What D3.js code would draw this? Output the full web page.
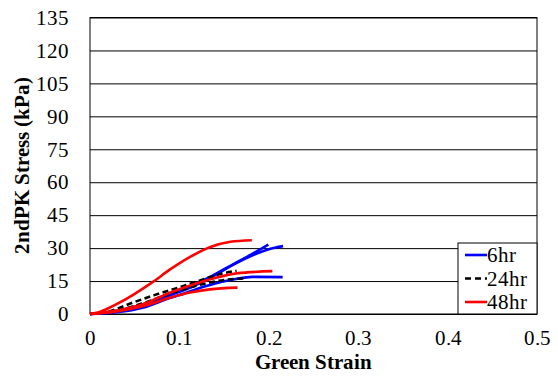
<!DOCTYPE html>
<html>
<head>
<meta charset="UTF-8">
<script src="https://d3js.org/d3.v7.js"></script>
<style>
    @font-face { font-family: "ChartSerif"; src: local("Liberation Serif"), local("LiberationSerif"), local("Times New Roman"); font-weight: normal; }
    @font-face { font-family: "ChartSerif"; src: local("Liberation Serif Bold"), local("LiberationSerif-Bold"), local("Times New Roman Bold"); font-weight: bold; }
</style>
</head>
<body style="margin:0">
<svg width="558" height="377"></svg>
<script>
    // ---- data ([strain, stress kPa]) ----
    const yTicks = [0, 15, 30, 45, 60, 75, 90, 105, 120, 135];
    const xTicks = [0, 0.1, 0.2, 0.3, 0.4, 0.5];

    const hr6a = [[0,0],[0.03,1.5],[0.06,4.6],[0.09,9],[0.112,12.4],[0.138,17.7],[0.16,22.6],[0.18,27],[0.1995,31.6]];
    const hr6b = [[0,0],[0.03,1.2],[0.06,4.2],[0.09,8.6],[0.112,12],[0.138,17.3],[0.16,22.4],[0.18,26.4],[0.2,29.5],[0.216,30.9]];
    const hr6c = [[0,0],[0.03,0.8],[0.06,3],[0.09,7.4],[0.1,8.6],[0.127,12.4],[0.157,15.5],[0.182,16.9],[0.2155,16.8]];

    const hr24a = [[0,0],[0.02,1],[0.046,4.9],[0.072,8.6],[0.098,11.9],[0.127,15.8],[0.145,18.1],[0.164,19.7]];
    const hr24b = [[0,0],[0.03,1.5],[0.06,5],[0.09,9.4],[0.12,13],[0.15,15.5],[0.175,16.2]];

    const hr48a = [[0,0],[0.01,0.8],[0.02,2.5],[0.035,5.6],[0.05,9.2],[0.07,14.5],[0.09,20.4],[0.112,26],[0.134,30.4],[0.157,32.9],[0.181,33.6]];
    const hr48b = [[0,0],[0.03,1.6],[0.06,4.6],[0.09,9.8],[0.112,13],[0.138,16.2],[0.164,18.5],[0.204,19.5]];
    const hr48c = [[0,0],[0.03,1.2],[0.06,3.6],[0.09,7.5],[0.112,9.8],[0.134,11.2],[0.165,12]];

    const seriesNames = ["6hr", "24hr", "48hr"];
    const seriesColors = ["#0000ff", "#000000", "#ff0000"];
    const seriesCurves = [[hr6a, hr6b, hr6c], [hr24a, hr24b], [hr48a, hr48b, hr48c]];

    const font = "ChartSerif, 'Liberation Serif', 'Times New Roman', serif";

    let svg = d3.select("svg");
    let plotL = 90, plotR = 537, plotT = 17.5, plotB = 314;

    let x = d3.scaleLinear().domain([0, 0.5]).range([plotL, plotR]);
    let y = d3.scaleLinear().domain([0, 135]).range([plotB, plotT]);

    // horizontal gridlines
    let grid = svg.append("g")
        .attr("transform", "translate(" + plotL + ",0)")
        .call(d3.axisLeft(y).tickValues(yTicks).tickSize(-(plotR - plotL)).tickFormat(""));
    grid.select(".domain").remove();
    grid.selectAll("line").attr("stroke", "#000").attr("stroke-width", 1);

    // plot frame
    svg.append("rect")
        .attr("x", plotL).attr("y", plotT)
        .attr("width", plotR - plotL).attr("height", plotB - plotT)
        .attr("fill", "none").attr("stroke", "#000").attr("stroke-width", 1);

    // y axis labels
    let yAxis = svg.append("g")
        .attr("transform", "translate(" + plotL + ",0)")
        .call(d3.axisLeft(y).tickValues(yTicks).tickSize(0).tickPadding(21));
    yAxis.select(".domain").remove();
    yAxis.attr("font-family", font).attr("font-size", 21);
    yAxis.selectAll("text")
        .style("font-family", font)
        .style("font-size", "21px").attr("fill", "#000");

    // x axis labels
    let xAxis = svg.append("g")
        .attr("transform", "translate(0," + plotB + ")")
        .call(d3.axisBottom(x).tickValues(xTicks).tickSize(0).tickPadding(16)
            .tickFormat(d => d === 0 ? "0" : d3.format(".1f")(d)));
    xAxis.select(".domain").remove();
    xAxis.attr("font-family", font).attr("font-size", 21);
    xAxis.selectAll("text")
        .style("font-family", font)
        .style("font-size", "21px").attr("fill", "#000");

    // axis titles
    svg.append("text")
        .attr("x", (plotL + plotR) / 2).attr("y", 369)
        .attr("text-anchor", "middle")
        .style("font-family", font)
        .style("font-size", "21px").style("font-weight", "bold")
        .text("Green Strain");

    svg.append("text")
        .attr("transform", "translate(29,165) rotate(-90)")
        .attr("text-anchor", "middle")
        .style("font-family", font)
        .style("font-size", "21px").style("font-weight", "bold")
        .text("2ndPK Stress (kPa)");

    // curves
    let line = d3.line()
        .x(d => x(d[0]))
        .y(d => y(d[1]))
        .curve(d3.curveMonotoneX);

    seriesCurves.forEach((curves, i) => {
        svg.append("g").selectAll("path")
            .data(curves)
            .join("path")
            .attr("d", line)
            .attr("fill", "none")
            .attr("stroke", seriesColors[i])
            .attr("stroke-width", 2.6)
            .attr("stroke-dasharray", seriesNames[i] === "24hr" ? "6,3.5" : null);
    });

    // legend
    let legend = svg.append("g").attr("transform", "translate(458,243)");
    legend.append("rect")
        .attr("width", 79).attr("height", 71)
        .attr("fill", "#fff").attr("stroke", "#000").attr("stroke-width", 1);

    let items = legend.selectAll(".item")
        .data(seriesNames)
        .join("g")
        .attr("class", "item")
        .attr("transform", (d, i) => "translate(0," + (12 + i * 23.5) + ")");

    items.append("line")
        .attr("x1", 7).attr("x2", 29)
        .attr("stroke", (d, i) => seriesColors[i])
        .attr("stroke-width", 2.6)
        .attr("stroke-dasharray", d => d === "24hr" ? "6,4" : null);

    items.append("text")
        .attr("x", 29).attr("dy", "0.35em")
        .style("font-family", font)
        .style("font-size", "21px")
        .text(d => d);
</script>
</body>
</html>
